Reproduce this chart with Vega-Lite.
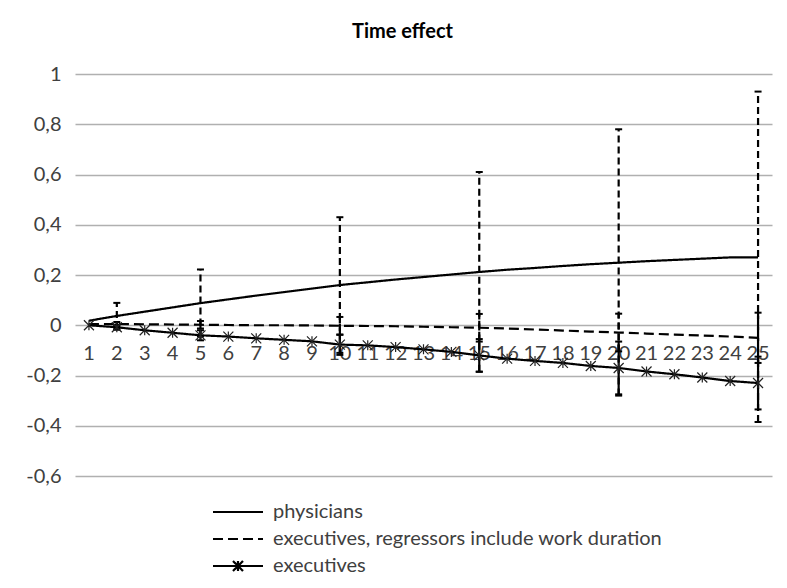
{
  "$schema": "https://vega.github.io/schema/vega-lite/v6.json",
  "width": 697,
  "height": 402,
  "autosize": "none",
  "padding": {"left": 75, "top": 74, "right": 15, "bottom": 112},
  "background": "white",
  "title": {"text": "Time effect", "font": "Lato", "fontSize": 20, "fontWeight": "bold", "color": "#000000", "anchor": "middle", "dx": -21, "offset": 22},
  "config": {
    "view": {"stroke": null},
    "font": "Lato"
  },
  "data": {"values": [
    {"t":1,"s":"physicians","v":0.018},
    {"t":2,"s":"physicians","v":0.037,"lo":-0.015,"hi":0.089},
    {"t":3,"s":"physicians","v":0.054},
    {"t":4,"s":"physicians","v":0.071},
    {"t":5,"s":"physicians","v":0.088,"lo":-0.045,"hi":0.222},
    {"t":6,"s":"physicians","v":0.103},
    {"t":7,"s":"physicians","v":0.118},
    {"t":8,"s":"physicians","v":0.132},
    {"t":9,"s":"physicians","v":0.146},
    {"t":10,"s":"physicians","v":0.16,"lo":-0.11,"hi":0.43},
    {"t":11,"s":"physicians","v":0.171},
    {"t":12,"s":"physicians","v":0.182},
    {"t":13,"s":"physicians","v":0.192},
    {"t":14,"s":"physicians","v":0.202},
    {"t":15,"s":"physicians","v":0.212,"lo":-0.185,"hi":0.61},
    {"t":16,"s":"physicians","v":0.221},
    {"t":17,"s":"physicians","v":0.228},
    {"t":18,"s":"physicians","v":0.236},
    {"t":19,"s":"physicians","v":0.243},
    {"t":20,"s":"physicians","v":0.249,"lo":-0.28,"hi":0.78},
    {"t":21,"s":"physicians","v":0.255},
    {"t":22,"s":"physicians","v":0.26},
    {"t":23,"s":"physicians","v":0.265},
    {"t":24,"s":"physicians","v":0.27},
    {"t":25,"s":"physicians","v":0.27,"lo":-0.385,"hi":0.93},
    {"t":1,"s":"executives, regressors include work duration","v":0.005},
    {"t":2,"s":"executives, regressors include work duration","v":0.005,"lo":-0.003,"hi":0.013},
    {"t":3,"s":"executives, regressors include work duration","v":0.004},
    {"t":4,"s":"executives, regressors include work duration","v":0.003},
    {"t":5,"s":"executives, regressors include work duration","v":0.002,"lo":-0.013,"hi":0.017},
    {"t":6,"s":"executives, regressors include work duration","v":0.001},
    {"t":7,"s":"executives, regressors include work duration","v":0.0},
    {"t":8,"s":"executives, regressors include work duration","v":0.0},
    {"t":9,"s":"executives, regressors include work duration","v":-0.001},
    {"t":10,"s":"executives, regressors include work duration","v":-0.002,"lo":-0.037,"hi":0.033},
    {"t":11,"s":"executives, regressors include work duration","v":-0.003},
    {"t":12,"s":"executives, regressors include work duration","v":-0.004},
    {"t":13,"s":"executives, regressors include work duration","v":-0.006},
    {"t":14,"s":"executives, regressors include work duration","v":-0.008},
    {"t":15,"s":"executives, regressors include work duration","v":-0.01,"lo":-0.065,"hi":0.045},
    {"t":16,"s":"executives, regressors include work duration","v":-0.013},
    {"t":17,"s":"executives, regressors include work duration","v":-0.017},
    {"t":18,"s":"executives, regressors include work duration","v":-0.021},
    {"t":19,"s":"executives, regressors include work duration","v":-0.025},
    {"t":20,"s":"executives, regressors include work duration","v":-0.029,"lo":-0.104,"hi":0.046},
    {"t":21,"s":"executives, regressors include work duration","v":-0.033},
    {"t":22,"s":"executives, regressors include work duration","v":-0.037},
    {"t":23,"s":"executives, regressors include work duration","v":-0.041},
    {"t":24,"s":"executives, regressors include work duration","v":-0.045},
    {"t":25,"s":"executives, regressors include work duration","v":-0.05,"lo":-0.15,"hi":0.05},
    {"t":1,"s":"executives","v":0.0},
    {"t":2,"s":"executives","v":-0.008,"lo":-0.018,"hi":0.002},
    {"t":3,"s":"executives","v":-0.02},
    {"t":4,"s":"executives","v":-0.03},
    {"t":5,"s":"executives","v":-0.04,"lo":-0.06,"hi":-0.02},
    {"t":6,"s":"executives","v":-0.045},
    {"t":7,"s":"executives","v":-0.052},
    {"t":8,"s":"executives","v":-0.058},
    {"t":9,"s":"executives","v":-0.064},
    {"t":10,"s":"executives","v":-0.077,"lo":-0.118,"hi":-0.038},
    {"t":11,"s":"executives","v":-0.08},
    {"t":12,"s":"executives","v":-0.087},
    {"t":13,"s":"executives","v":-0.096},
    {"t":14,"s":"executives","v":-0.106},
    {"t":15,"s":"executives","v":-0.12,"lo":-0.185,"hi":-0.055},
    {"t":16,"s":"executives","v":-0.133},
    {"t":17,"s":"executives","v":-0.142},
    {"t":18,"s":"executives","v":-0.15},
    {"t":19,"s":"executives","v":-0.162},
    {"t":20,"s":"executives","v":-0.17,"lo":-0.275,"hi":-0.065},
    {"t":21,"s":"executives","v":-0.184},
    {"t":22,"s":"executives","v":-0.195},
    {"t":23,"s":"executives","v":-0.208},
    {"t":24,"s":"executives","v":-0.222},
    {"t":25,"s":"executives","v":-0.23,"lo":-0.335,"hi":-0.125}
  ]},
  "encoding": {
    "x": {
      "field": "t", "type": "ordinal",
      "scale": {"type": "band", "domain": [1,2,3,4,5,6,7,8,9,10,11,12,13,14,15,16,17,18,19,20,21,22,23,24,25], "paddingInner": 0, "paddingOuter": 0},
      "axis": {"title": null, "domain": false, "ticks": false, "grid": false, "labelAngle": 0, "offset": -150, "labelPadding": 17, "labelFontSize": 20, "labelColor": "#404040", "labelOverlap": false, "labelBound": false, "labelFont": "Lato"}
    }
  },
  "layer": [
    {
      "mark": {"type": "line", "strokeWidth": 2.2, "color": "black"},
      "encoding": {
        "y": {
          "field": "v", "type": "quantitative",
          "scale": {"domain": [-0.6, 1], "nice": false, "zero": false},
          "axis": {"title": null, "values": [-0.6,-0.4,-0.2,0,0.2,0.4,0.6,0.8,1], "domain": false, "ticks": false, "grid": true, "gridColor": "#b0b0b0", "gridWidth": 1.5, "labelPadding": 14, "labelFontSize": 20, "labelColor": "#404040", "labelFont": "Lato",
            "labelExpr": "replace(replace(format(datum.value, '.1~f'), '.', ','), '\u2212', '-')"}
        },
        "strokeDash": {
          "field": "s", "type": "nominal",
          "scale": {"domain": ["physicians", "executives, regressors include work duration", "executives"], "range": [[1,0],[10,5],[1,0]]},
          "legend": {
            "title": null, "orient": "none", "legendX": 153, "legendY": 428,
            "symbolType": "M-5,0H5", "symbolSize": 100, "symbolStrokeWidth": 2.2, "symbolStrokeColor": "black", "symbolFillColor": "transparent",
            "labelFontSize": 20, "labelFont": "Lato", "labelColor": "#404040", "labelOffset": 25, "rowPadding": 7, "labelLimit": 600,
            "encode": {"symbols": {"update": {"shape": {"signal": "datum.value === 'executives' ? 'M-5,0H5M-1,-1L1,1M-1,1L1,-1M0,-1V1' : 'M-5,0H5'"}, "strokeWidth": {"value": 2.2}}}}
          }
        }
      }
    },
    {
      "transform": [{"filter": "isValid(datum.lo) && datum.s !== 'executives'"}],
      "mark": {"type": "rule", "strokeWidth": 2.2, "color": "black", "strokeDash": [7, 4]},
      "encoding": {"y": {"field": "lo", "type": "quantitative"}, "y2": {"field": "hi"}}
    },
    {
      "transform": [{"filter": "isValid(datum.lo) && datum.s === 'executives'"}],
      "mark": {"type": "rule", "strokeWidth": 2.2, "color": "black"},
      "encoding": {"y": {"field": "lo", "type": "quantitative"}, "y2": {"field": "hi"}}
    },
    {
      "transform": [{"filter": "isValid(datum.lo)"}],
      "mark": {"type": "tick", "orient": "horizontal", "size": 7, "thickness": 2, "color": "black", "opacity": 1},
      "encoding": {"y": {"field": "lo", "type": "quantitative"}}
    },
    {
      "transform": [{"filter": "isValid(datum.lo)"}],
      "mark": {"type": "tick", "orient": "horizontal", "size": 7, "thickness": 2, "color": "black", "opacity": 1},
      "encoding": {"y": {"field": "hi", "type": "quantitative"}}
    },
    {
      "transform": [{"filter": "datum.s === 'executives'"}],
      "mark": {"type": "point", "shape": "M-1,-1L1,1M-1,1L1,-1M0,-1V1", "size": 100, "filled": false, "stroke": "#222222", "strokeWidth": 1.2, "opacity": 1},
      "encoding": {"y": {"field": "v", "type": "quantitative"}}
    }
  ]
}
